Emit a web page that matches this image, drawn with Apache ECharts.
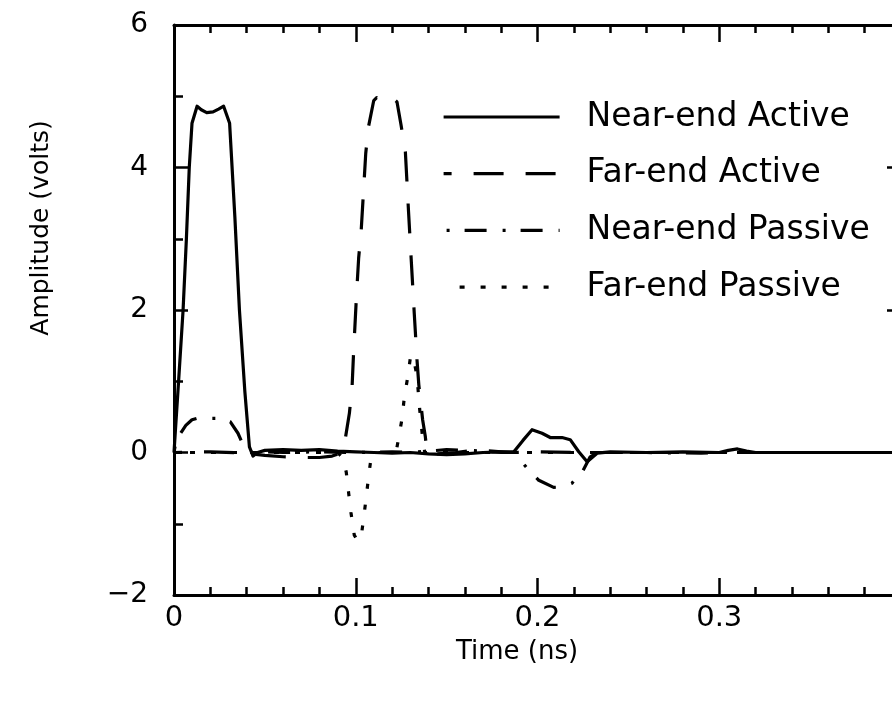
<!DOCTYPE html>
<html>
<head>
<meta charset="utf-8">
<script src="https://cdn.jsdelivr.net/npm/echarts@6/dist/echarts.min.js"></script>
<style>html,body{margin:0;padding:0;background:#fff;}#c{width:892px;height:708px;}</style>
</head>
<body>
<div id="c"></div>
<script>
// ---- data (time in ns, amplitude in volts) ----
const seriesNames = ['Near-end Active', 'Far-end Active', 'Near-end Passive', 'Far-end Passive'];
const xTicks = [0, 0.1, 0.2, 0.3, 0.4];
const yTicks = [-2, 0, 2, 4, 6];

const nearEndActive = [
  [0,0],[0.0025,0.99],[0.005,2.0],[0.0068,2.99],[0.0084,4.0],[0.0099,4.62],[0.0127,4.86],
  [0.015,4.81],[0.018,4.77],[0.0215,4.78],[0.0245,4.82],[0.0273,4.86],[0.0306,4.62],
  [0.0335,3.3],[0.036,2.0],[0.039,0.85],[0.0415,0.08],[0.0435,-0.05],[0.046,0.0],
  [0.05,0.03],[0.06,0.04],[0.07,0.03],[0.08,0.04],[0.09,0.02],[0.1,0.01],[0.11,0.0],
  [0.12,-0.01],[0.13,0.0],[0.14,-0.02],[0.15,-0.03],[0.16,-0.02],[0.17,0.0],[0.18,0.01],
  [0.187,0.01],[0.192,0.17],[0.197,0.32],[0.2025,0.27],[0.207,0.21],[0.2135,0.21],
  [0.218,0.18],[0.2227,0.01],[0.2273,-0.13],[0.2328,-0.01],[0.24,0.01],[0.26,0.0],
  [0.28,0.01],[0.3,0.0],[0.305,0.03],[0.31,0.05],[0.315,0.02],[0.32,0.0],[0.35,0.0],[0.4,0.0]
];
const farEndActive = [
  [0,0],[0.02,0.01],[0.04,-0.01],[0.05,-0.04],[0.06,-0.06],[0.07,-0.07],[0.08,-0.07],
  [0.087,-0.05],[0.093,0.0],[0.0943,0.2],[0.0965,0.55],[0.098,0.93],[0.0988,1.4],
  [0.0995,1.75],[0.1004,2.2],[0.1016,2.73],[0.103,3.12],[0.1047,3.85],[0.1055,4.2],
  [0.107,4.57],[0.1099,4.94],[0.1115,4.98],[0.1135,4.93],[0.1155,4.96],[0.118,4.95],
  [0.1205,4.97],[0.1227,4.92],[0.1249,4.6],[0.1273,4.22],[0.129,3.4],[0.1306,2.67],
  [0.1322,1.95],[0.1337,1.3],[0.1347,0.95],[0.1368,0.46],[0.1383,0.22],[0.1392,0.0],
  [0.145,-0.02],[0.155,0.0],[0.165,0.03],[0.175,0.02],[0.185,0.0],[0.2,0.01],[0.22,0.0],
  [0.25,0.0],[0.4,0.0]
];
const nearEndPassive = [
  [0,0],[0.0007,0.1],[0.0031,0.25],[0.0065,0.38],[0.0099,0.46],[0.014,0.49],[0.019,0.48],
  [0.025,0.48],[0.031,0.43],[0.0352,0.27],[0.0385,0.08],[0.041,0.0],[0.05,0.01],[0.06,0.0],
  [0.08,0.01],[0.1,0.0],[0.12,0.01],[0.13,0.0],[0.14,0.02],[0.15,0.04],[0.16,0.03],
  [0.17,0.02],[0.18,0.0],[0.187,0.0],[0.1943,-0.22],[0.2007,-0.39],[0.2089,-0.49],
  [0.214,-0.48],[0.219,-0.43],[0.2251,-0.25],[0.229,-0.06],[0.233,0.0],[0.26,0.0],
  [0.29,-0.01],[0.3,0.0],[0.4,0.0]
];
const farEndPassive = [
  [0,0],[0.05,0.0],[0.09,0.0],[0.093,-0.08],[0.0948,-0.28],[0.0961,-0.57],[0.0974,-0.85],
  [0.0992,-1.16],[0.101,-1.24],[0.1029,-1.2],[0.1044,-0.91],[0.1058,-0.62],[0.1071,-0.33],
  [0.1085,-0.06],[0.11,0.0],[0.12,0.0],[0.1225,0.05],[0.1236,0.2],[0.1255,0.48],
  [0.1267,0.77],[0.1286,1.06],[0.1301,1.34],[0.1315,1.36],[0.1337,1.07],[0.1352,0.6],
  [0.1368,0.2],[0.138,0.0],[0.15,0.0],[0.2,0.0],[0.4,0.0]
];
const xTitle = 'Time (ns)';
const yTitle = 'Amplitude (volts)';

// ---- chart ----
const FONT = 'DejaVu Sans';
const chart = echarts.init(document.getElementById('c'), null, {renderer: 'canvas'});
const lineW = 3.2;
function axisCommon(showLabel, isX) {
  return {
    type: 'value',
    min: isX ? xTicks[0] : yTicks[0],
    max: isX ? xTicks[xTicks.length - 1] : yTicks[yTicks.length - 1],
    interval: isX ? xTicks[1] - xTicks[0] : yTicks[1] - yTicks[0],
    axisLine: {show: true, onZero: false, lineStyle: {color: '#000', width: 3}},
    axisTick: {show: true, inside: true, length: isX ? 17 : 14, lineStyle: {color: '#000', width: 2.5}},
    minorTick: {show: true, splitNumber: isX ? 5 : 2, length: isX ? 8 : 9, lineStyle: {color: '#000', width: 2.5}},
    splitLine: {show: false},
    minorSplitLine: {show: false},
    axisLabel: {
      show: showLabel,
      color: '#000',
      fontFamily: FONT,
      fontSize: isX ? 29 : 28,
      margin: isX ? 9 : 26,
      showMaxLabel: !isX,
      formatter: function (v) {
        const r = Math.round(v * 10) / 10;
        return String(r).replace('-', '\u2212');
      }
    }
  };
}
const xBottom = Object.assign(axisCommon(true, true), {position: 'bottom', gridIndex: 0});
const xTop = Object.assign(axisCommon(false, true), {position: 'top', gridIndex: 0});
const yLeft = Object.assign(axisCommon(true, false), {position: 'left', gridIndex: 0});
const yRight = Object.assign(axisCommon(false, false), {position: 'right', gridIndex: 0});

const styles = [
  {type: 'solid'},
  {type: [30, 22], dashOffset: 22},
  {type: [3, 15, 22, 16], dashOffset: 53},
  {type: [5, 16], dashOffset: 5}
];
const datasets = [nearEndActive, farEndActive, nearEndPassive, farEndPassive];

chart.setOption({
  animation: false,
  backgroundColor: '#fff',
  grid: {left: 174, top: 25, width: 727, height: 570, containLabel: false, outerBoundsMode: 'none'},
  xAxis: [xBottom, xTop],
  yAxis: [yLeft, yRight],
  legend: {
    data: seriesNames,
    orient: 'vertical',
    left: 442,
    top: 97,
    itemWidth: 116,
    itemHeight: 20,
    itemGap: 16.7,
    padding: 0,
    itemStyle: {color: 'rgba(0,0,0,0)', borderColor: 'rgba(0,0,0,0)', borderWidth: 0, opacity: 0},
    lineStyle: {width: 3.2, color: '#000'},
    textStyle: {color: '#000', fontFamily: FONT, fontSize: 33, lineHeight: 40, padding: [0, 0, 0, 22]},
    selectedMode: false
  },
  series: seriesNames.map(function (name, i) {
    return {
      name: name,
      type: 'line',
      xAxisIndex: 0,
      yAxisIndex: 0,
      data: datasets[i],
      symbol: 'none',
      showSymbol: false,
      smooth: false,
      lineStyle: Object.assign({color: '#000', width: lineW, cap: 'butt', join: 'round'}, styles[i]),
      itemStyle: {color: '#000'}
    };
  }),
  graphic: [
    {type: 'text', x: 517, y: 652, style: {text: xTitle, font: '26px "' + FONT + '"', fill: '#000', align: 'center', verticalAlign: 'middle'}},
    {type: 'text', x: 41, y: 228, rotation: Math.PI / 2, style: {text: yTitle, font: '25px "' + FONT + '"', fill: '#000', align: 'center', verticalAlign: 'middle'}}
  ]
});
</script>
</body>
</html>
